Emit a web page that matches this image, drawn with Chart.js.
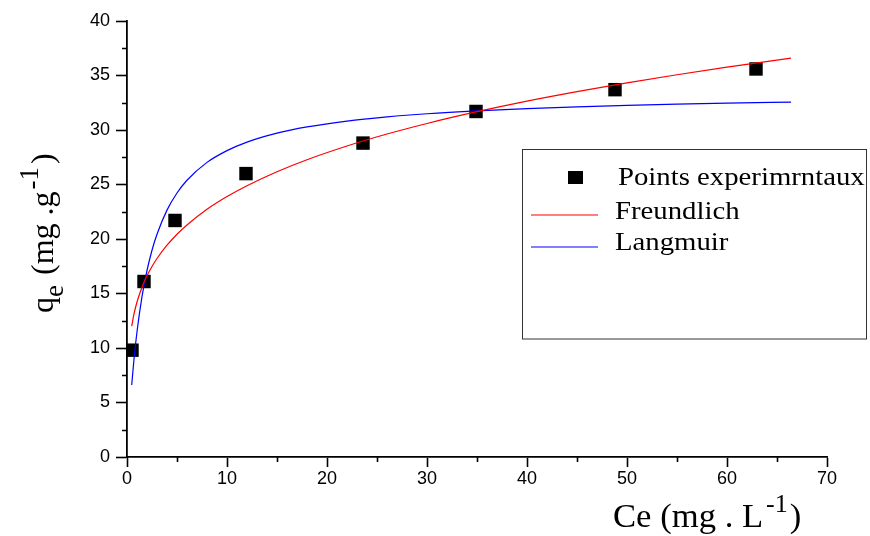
<!DOCTYPE html>
<html>
<head>
<meta charset="utf-8">
<script src="https://cdn.jsdelivr.net/npm/chart.js@4/dist/chart.umd.min.js"></script>
<style>
  html, body { margin: 0; padding: 0; background: #fff; }
  #wrap { width: 870px; height: 536px; position: relative; }
</style>
</head>
<body>
<div id="wrap"><canvas id="c" width="870" height="536"></canvas></div>
<script>
// Experimental equilibrium data: Ce (mg/L) vs qe (mg/g)
const ceExp = [0.5, 1.7, 4.8, 11.9, 23.6, 34.9, 48.8, 62.9];
const qeExp = [9.8, 16.1, 21.7, 26.0, 28.8, 31.7, 33.7, 35.6];

// Fitted isotherm curves, sampled along Ce
const ceFit = [0.47, 0.7, 1, 1.5, 2, 2.5, 3, 4, 5, 6, 8, 10, 12, 15, 18, 22, 26, 30, 35, 40, 45, 50, 55, 60, 66.4];
const qeFreundlich = [12.00, 13.12, 14.22, 15.58, 16.62, 17.48, 18.21, 19.43, 20.44, 21.29, 22.72, 23.89, 24.89, 26.17, 27.27, 28.53, 29.63, 30.60, 31.68, 32.65, 33.52, 34.33, 35.07, 35.77, 36.60];
const qeLangmuir = [6.60, 8.97, 11.49, 14.71, 17.11, 18.97, 20.44, 22.65, 24.22, 25.39, 27.03, 28.11, 28.89, 29.71, 30.28, 30.82, 31.20, 31.49, 31.76, 31.97, 32.13, 32.26, 32.37, 32.46, 32.56];

// Axis ranges and ticks
const xMajor = [0, 10, 20, 30, 40, 50, 60, 70];
const xMinor = [5, 15, 25, 35, 45, 55, 65];
const yMajor = [0, 5, 10, 15, 20, 25, 30, 35, 40];
const yMinor = [2.5, 7.5, 12.5, 17.5, 22.5, 27.5, 32.5, 37.5];

const seriesLabels = ['Points experimrntaux', 'Freundlich', 'Langmuir'];
const SERIF = '"Liberation Serif", "Times New Roman", serif';
const SANS = '"Liberation Sans", Arial, sans-serif';

function toXY(xs, ys) { return xs.map((v, i) => ({ x: v, y: ys[i] })); }

// draw text with a horizontal stretch, returns advance width
function drawText(ctx, text, x, y, size, sx) {
  ctx.save();
  ctx.font = size + 'px ' + SERIF;
  ctx.translate(x, y);
  ctx.scale(sx, 1);
  ctx.fillText(text, 0, 0);
  const w = ctx.measureText(text).width * sx;
  ctx.restore();
  return w;
}

const decor = {
  id: 'decor',
  afterDraw(chart) {
    const { ctx, scales: { x, y } } = chart;
    ctx.save();
    // minor ticks
    ctx.strokeStyle = '#000';
    ctx.lineWidth = 1.6;
    ctx.beginPath();
    xMinor.forEach(v => {
      const px = Math.round(x.getPixelForValue(v)) + 0.5;
      ctx.moveTo(px, y.bottom); ctx.lineTo(px, y.bottom + 5);
    });
    yMinor.forEach(v => {
      const py = Math.round(y.getPixelForValue(v)) + 0.5;
      ctx.moveTo(x.left, py); ctx.lineTo(x.left - 5, py);
    });
    ctx.stroke();

    ctx.fillStyle = '#000';
    ctx.textBaseline = 'alphabetic';
    ctx.textAlign = 'left';

    // x-axis title: Ce (mg . L^-1)
    let cx = 613;
    cx += drawText(ctx, 'Ce (mg . L', cx, 527, 33, 1.05);
    cx += 3;
    cx += drawText(ctx, '-1', cx, 512, 26, 1.0);
    drawText(ctx, ')', cx + 2, 527, 33, 1.05);

    // y-axis title: qe (mg .g^-1), rotated
    ctx.save();
    ctx.translate(53, 313);
    ctx.rotate(-Math.PI / 2);
    let ty = 0;
    ty += drawText(ctx, 'q', ty, 0, 32, 1.0);
    ty += drawText(ctx, 'e', ty, 10, 27, 1.0);
    ty += drawText(ctx, ' (mg .g', ty + 2, 0, 32, 1.0) + 2;
    ty += drawText(ctx, '-', ty + 2, -13, 27, 1.0) + 2;
    ty += drawText(ctx, '1', ty, -15, 27, 1.0);
    drawText(ctx, ')', ty + 3, 0, 32, 1.0);
    ctx.restore();

    // legend box
    ctx.strokeStyle = '#333';
    ctx.lineWidth = 1;
    ctx.strokeRect(522.5, 149.5, 344, 189.5);
    const ds = chart.data.datasets;
    // experimental points entry
    ctx.fillStyle = ds[0].backgroundColor;
    ctx.fillRect(568, 171, 15, 13);
    ctx.fillStyle = '#000';
    drawText(ctx, ds[0].label, 618, 185, 25, 1.15);
    // fitted curve entries
    [[ds[1], 215, 219], [ds[2], 247, 250]].forEach(([d, ly, by]) => {
      ctx.strokeStyle = d.borderColor;
      ctx.lineWidth = 1.2;
      ctx.beginPath();
      ctx.moveTo(531, ly); ctx.lineTo(598, ly);
      ctx.stroke();
      ctx.fillStyle = '#000';
      drawText(ctx, d.label, 615, by, 25, 1.15);
    });
    ctx.restore();
  }
};

new Chart(document.getElementById('c'), {
  type: 'scatter',
  data: {
    datasets: [
      {
        label: seriesLabels[0],
        data: toXY(ceExp, qeExp),
        pointStyle: 'rect',
        pointRadius: 9.5,
        pointHoverRadius: 9.5,
        backgroundColor: '#000',
        borderColor: '#000',
        borderWidth: 0,
        order: 3
      },
      {
        label: seriesLabels[1],
        data: toXY(ceFit, qeFreundlich),
        showLine: true,
        cubicInterpolationMode: 'monotone',
        borderColor: '#ff0000',
        backgroundColor: '#ff0000',
        borderWidth: 1.2,
        pointRadius: 0,
        order: 1
      },
      {
        label: seriesLabels[2],
        data: toXY(ceFit, qeLangmuir),
        showLine: true,
        cubicInterpolationMode: 'monotone',
        borderColor: '#0000ff',
        backgroundColor: '#0000ff',
        borderWidth: 1.2,
        pointRadius: 0,
        order: 2
      }
    ]
  },
  options: {
    responsive: false,
    animation: false,
    devicePixelRatio: 1,
    layout: { padding: { left: 0, top: 21, right: 43, bottom: 0 } },
    plugins: { legend: { display: false }, tooltip: { enabled: false } },
    scales: {
      x: {
        type: 'linear',
        min: 0, max: 70,
        afterFit: s => { s.height = 79; },
        afterBuildTicks: s => { s.ticks = xMajor.map(v => ({ value: v })); },
        border: { display: true, color: '#000', width: 1.8 },
        grid: { display: true, drawOnChartArea: false, drawTicks: true, tickLength: 10, tickColor: '#000', tickWidth: 1.6 },
        ticks: { color: '#000', font: { family: SANS, size: 18 }, padding: 1, maxRotation: 0 }
      },
      y: {
        type: 'linear',
        min: 0, max: 40,
        afterFit: s => { s.width = 127; },
        afterBuildTicks: s => { s.ticks = yMajor.map(v => ({ value: v })); },
        border: { display: true, color: '#000', width: 1.8 },
        grid: { display: true, drawOnChartArea: false, drawTicks: true, tickLength: 11, tickColor: '#000', tickWidth: 1.6 },
        ticks: { color: '#000', font: { family: SANS, size: 18 }, padding: 6 }
      }
    }
  },
  plugins: [decor]
});
</script>
</body>
</html>
